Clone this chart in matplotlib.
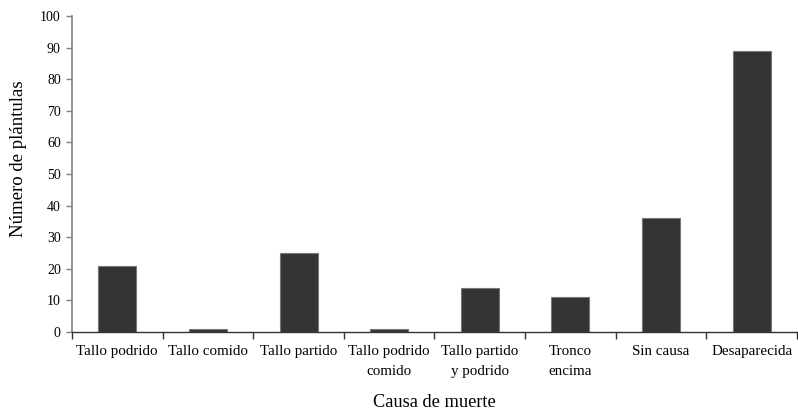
import matplotlib
matplotlib.use('Agg')
import matplotlib.pyplot as plt
import numpy as np

causes = ['Tallo podrido', 'Tallo comido', 'Tallo partido', 'Tallo podrido\ncomido',
          'Tallo partido\ny podrido', 'Tronco\nencima', 'Sin causa', 'Desaparecida']
counts = [21, 1, 25, 1, 14, 11, 36, 89]
y_ticks = list(range(0, 101, 10))

plt.rcParams['font.family'] = ['Liberation Serif', 'DejaVu Serif']

fig = plt.figure(figsize=(7.98, 4.13), dpi=100)
ax = fig.add_axes([0.0902, 0.196, 0.9085, 0.765])

x = np.arange(len(causes))
ax.bar(x, counts, width=0.42, color='#333333', edgecolor='#777777', linewidth=0.8, zorder=3)

ax.set_xlim(-0.5, len(causes) - 0.5)
ax.set_ylim(0, 100)
ax.set_yticks(y_ticks)
ax.set_yticklabels([str(v) for v in y_ticks], fontsize=10)

# category ticks between groups, labels centered under bars
ax.set_xticks(np.arange(-0.5, len(causes), 1.0))
ax.set_xticklabels([])
ax.set_xticks(x, minor=True)
ax.set_xticklabels(causes, minor=True, fontsize=10.8, linespacing=1.75)
ax.tick_params(axis='x', which='minor', length=0, pad=9)
ax.tick_params(axis='x', which='major', length=5, width=1, color='#333333', direction='out')
ax.tick_params(axis='y', length=4, width=1, color='#808080', direction='out', pad=4)

for s in ['top', 'right']:
    ax.spines[s].set_visible(False)
ax.spines['left'].set_color('#808080')
ax.spines['left'].set_linewidth(1.2)
ax.spines['bottom'].set_color('#333333')
ax.spines['bottom'].set_linewidth(1)

ax.set_xlabel('Causa de muerte', fontsize=13.2)
ax.set_ylabel('Número de plántulas', fontsize=13.5)
ax.xaxis.set_label_coords(0.5, -0.195)
ax.yaxis.set_label_coords(-0.062, 0.55)

fig.savefig('out.png', dpi=100)
